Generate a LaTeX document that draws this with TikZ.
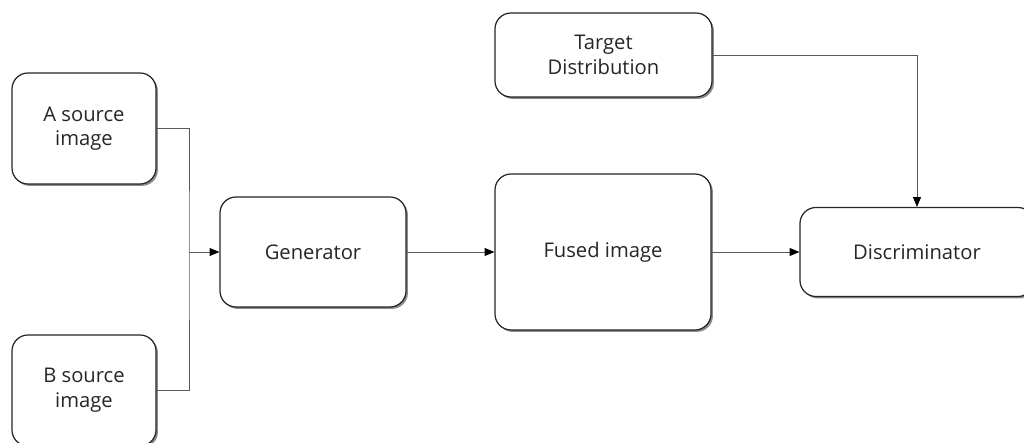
\documentclass[tikz,border=0pt]{standalone}
\usepackage{fontspec}
\setmainfont{Open Sans}
\usetikzlibrary{arrows.meta, shadows}

\begin{document}
\begin{tikzpicture}[
  every node/.style={font=\fontsize{11.5}{14}\selectfont, text=black!85},
  blk/.style={draw=black!85, line width=0.7pt, rounded corners=0.32cm, fill=white,
    align=center, inner sep=0pt,
    drop shadow={shadow xshift=1.1pt, shadow yshift=-1.1pt, opacity=0.45, fill=black}},
  link/.style={draw=black!65, line width=0.45pt},
  flow/.style={link, -{Triangle[length=5.5pt, width=4.5pt, black]}}
]
\useasboundingbox (0,0) rectangle (20.48,8.86);
\clip (0,0) rectangle (20.48,8.86);
% inputs
\node[blk, minimum width=2.88cm, minimum height=2.22cm] (srcA) at (1.68,6.29) {A source\\image};
\node[blk, minimum width=2.88cm, minimum height=2.22cm] (srcB) at (1.68,1.05) {B source\\image};
% main chain
\node[blk, minimum width=3.72cm, minimum height=2.2cm] (gen) at (6.26,3.82) {Generator};
\node[blk, minimum width=4.32cm, minimum height=3.12cm] (fused) at (12.06,3.82) {Fused image};
\node[blk, minimum width=4.34cm, minimum height=1.68cm] (tgt) at (12.07,7.76) {Target\\Distribution};
\node[blk, minimum width=4.68cm, minimum height=1.78cm] (disc) at (18.34,3.82) {Discriminator};
\coordinate (junc) at (3.78,3.82);
% connectors
\draw[link] (srcA.east) -| (junc) |- (srcB.east);
\draw[flow] (junc) -- (gen.west);
\draw[flow] (gen.east) -- (fused.west);
\draw[flow] (fused.east) -- (disc.west);
\draw[flow] (tgt.east) -| (disc.north);
\end{tikzpicture}
\end{document}
